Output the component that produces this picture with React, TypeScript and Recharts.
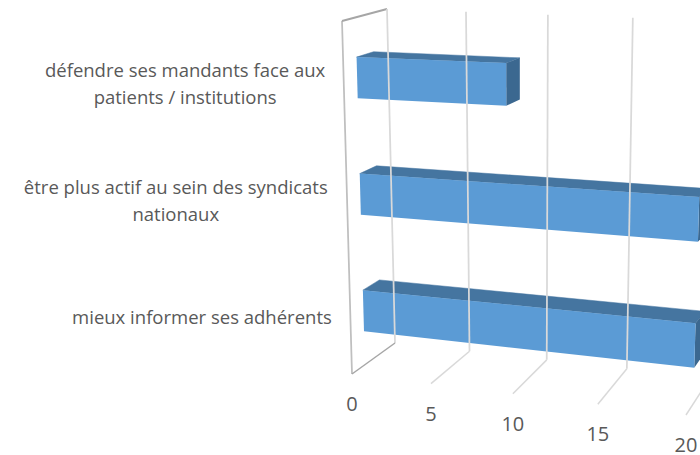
import { BarChart, Bar, XAxis, YAxis } from 'recharts'

const categories = [
  ['défendre ses mandants face aux', 'patients / institutions'],
  ['être plus actif au sein des syndicats', 'nationaux'],
  ['mieux informer ses adhérents'],
]
const values = [9, 20, 20]
const axisTicks = [0, 5, 10, 15, 20]

const data = categories.map((lines, i) => ({ name: lines.join(' '), value: values[i] }))

const WIDTH = 700
const HEIGHT = 455
const TEXT = '#595959'
const FONT = '"Open Sans", sans-serif'

// bar depth inside the box, 0 = front of floor, 1 = back wall
const BAR_FRONT = 0.3
const BAR_BACK = 0.68

// box corners on screen: [value end][top/bottom][front/back]
const CORNERS = [
  [[[342, 21], [387, 9]], [[352, 374], [395, 343]]],
  [[[697, 31], [721, 21]], [[686, 415], [710, 378]]],
]

const mix = (a: number, b: number, t: number) => a + (b - a) * t

// perspective: tick spacing grows towards the right
const stretch = (u: number) => u / (u + 1.076 * (1 - u))

function project(u: number, w: number, d: number): [number, number] {
  const t = stretch(u)
  const at = (axis: number) =>
    mix(
      mix(mix(CORNERS[0][0][0][axis], CORNERS[0][0][1][axis], d), mix(CORNERS[0][1][0][axis], CORNERS[0][1][1][axis], d), w),
      mix(mix(CORNERS[1][0][0][axis], CORNERS[1][0][1][axis], d), mix(CORNERS[1][1][0][axis], CORNERS[1][1][1][axis], d), w),
      t
    )
  return [at(0), at(1)]
}

const pts = (list: [number, number][]) => list.map((p) => p.join(',')).join(' ')

function Bar3D({ x, y, width, height }: any) {
  const u0 = (x - 1) / (WIDTH - 1)
  const u1 = (x + width - 1) / (WIDTH - 1)
  const w0 = y / HEIGHT
  const w1 = (y + height) / HEIGHT
  const ftl = project(u0, w0, BAR_FRONT)
  const ftr = project(u1, w0, BAR_FRONT)
  const fbl = project(u0, w1, BAR_FRONT)
  const fbr = project(u1, w1, BAR_FRONT)
  const btl = project(u0, w0, BAR_BACK)
  const btr = project(u1, w0, BAR_BACK)
  const bbr = project(u1, w1, BAR_BACK)
  return (
    <g>
      <polygon points={pts([ftl, ftr, btr, btl])} fill="#4575A0" stroke="#4575A0" strokeWidth={0.5} />
      <polygon points={pts([ftr, btr, bbr, fbr])} fill="#3B6890" />
      <polygon points={pts([ftl, ftr, fbr, fbl])} fill="#5B9BD5" />
    </g>
  )
}

function ValueTick({ x, payload }: any) {
  const u = (x - 1) / (WIDTH - 1)
  const frontTop = project(u, 0, 0)
  const backTop = project(u, 0, 1)
  const frontBottom = project(u, 1, 0)
  const backBottom = project(u, 1, 1)
  const isZero = payload.value === 0
  return (
    <g>
      {isZero && (
        <>
          <line x1={frontTop[0]} y1={frontTop[1]} x2={frontBottom[0]} y2={frontBottom[1]} stroke="#BFBFBF" strokeWidth={1.75} />
          <line x1={frontTop[0]} y1={frontTop[1]} x2={backTop[0]} y2={backTop[1]} stroke="#A6A6A6" strokeWidth={2} />
        </>
      )}
      <line x1={backTop[0]} y1={backTop[1]} x2={backBottom[0]} y2={backBottom[1]} stroke="#D9D9D9" strokeWidth={1.75} />
      <line
        x1={backBottom[0]}
        y1={backBottom[1]}
        x2={frontBottom[0]}
        y2={frontBottom[1]}
        stroke={isZero ? '#A6A6A6' : '#D9D9D9'}
        strokeWidth={1.5}
      />
      <text x={frontBottom[0]} y={frontBottom[1] + 37} textAnchor="middle" fill={TEXT} fontSize={20} fontFamily={FONT}>
        {payload.value}
      </text>
    </g>
  )
}

// half the width of each label block, the lines are centred inside it
const LABEL_HALF = [140, 152.5, 129.5]

function CategoryTick({ y, index }: any) {
  const lines = categories[index]
  const left = project(0, y / HEIGHT, BAR_FRONT)
  const cx = left[0] - 32 - LABEL_HALF[index]
  const top = left[1] + 7 + 6 - ((lines.length - 1) * 27) / 2
  return (
    <text textAnchor="middle" fill={TEXT} fontSize={18.5} fontFamily={FONT}>
      {lines.map((line, i) => (
        <tspan key={line} x={cx} y={top + i * 27}>
          {line}
        </tspan>
      ))}
    </text>
  )
}

export default function App() {
  return (
    <div style={{ position: 'absolute', left: 0, top: 0, width: WIDTH, height: HEIGHT, overflow: 'hidden' }}>
      <BarChart
        width={WIDTH}
        height={HEIGHT}
        data={data}
        layout="vertical"
        margin={{ top: 3, right: 0, bottom: -7, left: 0 }}
        barSize={54}
      >
        <XAxis
          type="number"
          domain={[0, 20]}
          ticks={axisTicks}
          height={1}
          interval={0}
          axisLine={false}
          tickLine={false}
          tick={(props: any) => <ValueTick {...props} />}
        />
        <YAxis
          type="category"
          dataKey="name"
          width={1}
          interval={0}
          axisLine={false}
          tickLine={false}
          tick={(props: any) => <CategoryTick {...props} />}
        />
        <Bar dataKey="value" shape={(props: any) => <Bar3D {...props} />} isAnimationActive={false} />
      </BarChart>
    </div>
  )
}
